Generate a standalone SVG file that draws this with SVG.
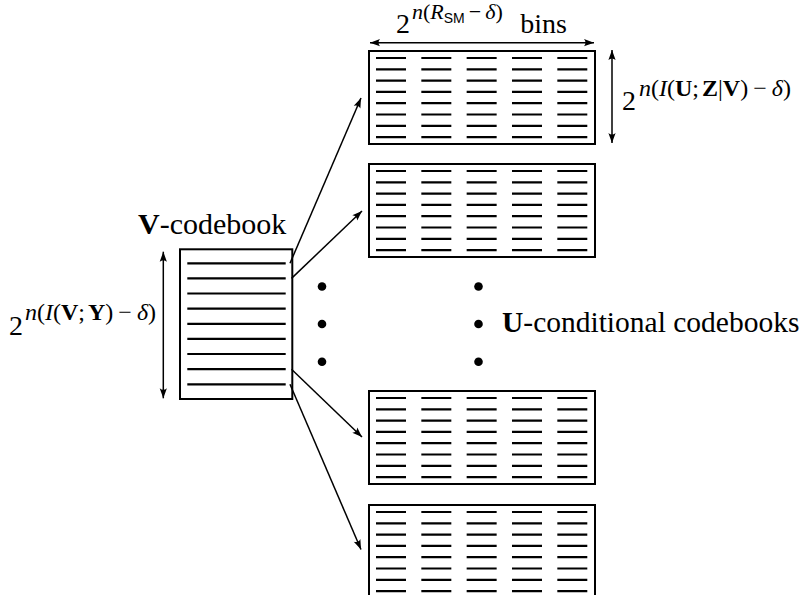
<svg xmlns="http://www.w3.org/2000/svg" width="812" height="595" viewBox="0 0 812 595">
<style>
.box{fill:#fff;stroke:#000;stroke-width:2}
.dash{stroke:#000;stroke-width:2.2;fill:none}
.conn{stroke:#000;stroke-width:1.5;fill:none}
.t{font-family:"Liberation Serif","Times New Roman",serif;fill:#000}
.it{font-style:italic}
.bf{font-weight:bold}
.sf{font-family:"Liberation Sans",Arial,sans-serif}
.dot{fill:#000}
</style>
<defs>
<marker id="ah" markerUnits="userSpaceOnUse" markerWidth="14" markerHeight="10" viewBox="-12 -5 14 10" refX="0" refY="0" orient="auto-start-reverse">
<path d="M0,0 L-10,-3.6 Q-7,0 -10,3.6 Z" fill="#000"/>
</marker>
<g id="cb">
<rect class="box" x="0" y="0" width="226" height="93"/>
<path class="dash" stroke-dasharray="30 15.33" d="M7,7H218.3M7,18.3H218.3M7,29.6H218.3M7,40.9H218.3M7,52.2H218.3M7,63.5H218.3M7,74.8H218.3M7,86.1H218.3"/>
</g>
</defs>
<rect width="812" height="595" fill="#fff"/>

<g id="v-codebook">
<rect class="box" x="180" y="249.3" width="112.3" height="149.7"/>
<path class="dash" d="M187.3,263.3H285.7M187.3,278.4H285.7M187.3,293.5H285.7M187.3,308.7H285.7M187.3,323.8H285.7M187.3,338.9H285.7M187.3,354H285.7M187.3,369.2H285.7M187.3,384.3H285.7"/>
<text class="t" x="138" y="234" font-size="30"><tspan class="bf">V</tspan>-codebook</text>
<path class="conn" d="M163.3,251.7V398.3" marker-start="url(#ah)" marker-end="url(#ah)"/>
<text class="t" x="9" y="335" font-size="28">2</text>
<text class="t" x="25" y="320" font-size="24"><tspan class="it">n</tspan>(<tspan class="it">I</tspan>(<tspan class="bf">V</tspan>;<tspan class="bf" dx="3">Y</tspan>)<tspan dx="5">−</tspan><tspan class="it" dx="5">δ</tspan>)</text>
</g>

<g id="u-codebook-1">
<use href="#cb" x="369" y="51"/>
<path class="conn" d="M370,42.7H594" marker-start="url(#ah)" marker-end="url(#ah)"/>
<text class="t" x="396" y="33" font-size="28">2</text>
<text class="t" x="412" y="19" font-size="22"><tspan class="it">n</tspan>(<tspan class="it">R</tspan><tspan class="sf" font-size="14" dy="4">SM</tspan><tspan dx="4" dy="-4">−</tspan><tspan class="it" dx="4">δ</tspan>)</text>
<text class="t" x="567" y="33" font-size="28" text-anchor="end">bins</text>
<path class="conn" d="M612,50V143" marker-start="url(#ah)" marker-end="url(#ah)"/>
<text class="t" x="622" y="110" font-size="28">2</text>
<text class="t" x="639" y="96" font-size="24"><tspan class="it">n</tspan>(<tspan class="it">I</tspan>(<tspan class="bf">U</tspan>;<tspan class="bf" dx="3">Z</tspan>|<tspan class="bf">V</tspan>)<tspan dx="5">−</tspan><tspan class="it" dx="5">δ</tspan>)</text>
</g>

<g id="u-codebook-2">
<use href="#cb" x="369" y="164"/>
</g>

<g id="u-codebook-3">
<use href="#cb" x="369" y="391"/>
</g>

<g id="u-codebook-4">
<use href="#cb" x="369" y="505"/>
</g>

<g id="ellipsis">
<circle class="dot" cx="322" cy="286.5" r="4.3"/>
<circle class="dot" cx="322" cy="324" r="4.3"/>
<circle class="dot" cx="322" cy="361.7" r="4.3"/>
<circle class="dot" cx="478.5" cy="286.5" r="4.3"/>
<circle class="dot" cx="478.5" cy="324" r="4.3"/>
<circle class="dot" cx="478.5" cy="361.7" r="4.3"/>
<text class="t" x="502" y="332" font-size="29.5"><tspan class="bf">U</tspan>-conditional codebooks</text>
</g>

<g id="connectors">
<path class="conn" d="M290,263.3L361,98" marker-end="url(#ah)"/>
<path class="conn" d="M291.5,278.4L362,211" marker-end="url(#ah)"/>
<path class="conn" d="M291.5,369.2L362,437" marker-end="url(#ah)"/>
<path class="conn" d="M290,384.3L361,549.5" marker-end="url(#ah)"/>
</g>
</svg>
